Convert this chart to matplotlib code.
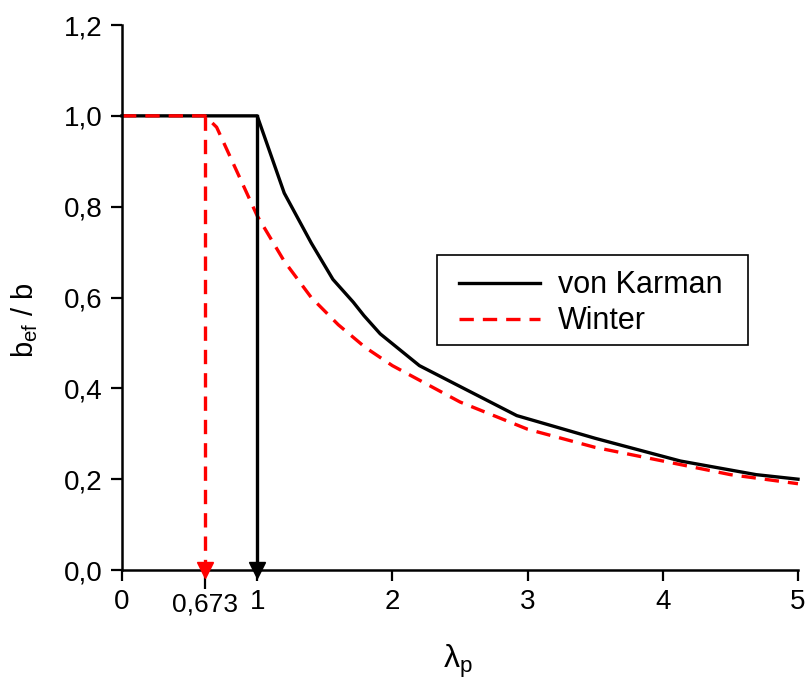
import matplotlib as mpl
import matplotlib.pyplot as plt
from matplotlib.patches import Rectangle

mpl.rcParams['font.family'] = ['Liberation Sans', 'DejaVu Sans']
mpl.rcParams['mathtext.fontset'] = 'custom'
mpl.rcParams['mathtext.rm'] = 'Liberation Sans'
mpl.rcParams['mathtext.it'] = 'Liberation Sans'

# values
karman_x = [0.0, 1.0, 1.2, 1.4, 1.56, 1.65, 1.71, 1.79, 1.91, 2.2, 2.92, 3.5, 4.13, 4.69, 5.0]
karman_y = [1.0, 1.0, 0.83, 0.72, 0.64, 0.61, 0.59, 0.56, 0.52, 0.45, 0.34, 0.29, 0.24, 0.21, 0.20]

winter_x = [0.0, 0.615, 0.7, 0.8, 1.0, 1.2, 1.4, 1.6, 1.8, 2.0, 2.5, 3.0, 3.5, 4.0, 4.5, 5.0]
winter_y = [1.0, 1.0, 0.975, 0.91, 0.78, 0.68, 0.60, 0.54, 0.49, 0.45, 0.37, 0.31, 0.27, 0.24, 0.21, 0.19]

# where the arrows sit in the picture, and what the labels say
lambda_winter = 0.615
lambda_winter_label = '0,673'
lambda_karman = 1.0

x_ticks = [0, 1, 2, 3, 4, 5]
y_ticks = [0.0, 0.2, 0.4, 0.6, 0.8, 1.0, 1.2]
y_tick_labels = ['0,0', '0,2', '0,4', '0,6', '0,8', '1,0', '1,2']

dpi = 100
fig = plt.figure(figsize=(810 / dpi, 682 / dpi), dpi=dpi)
ax = fig.add_axes([0.1506, 0.1642, 0.8346, 0.7991])

red_dash = (0, (4.3, 2.7))
lw = 2.4

ax.plot(karman_x, karman_y, color='black', lw=lw, label='von Karman', clip_on=False)
ax.plot(winter_x, winter_y, color='red', lw=lw, linestyle=red_dash, label='Winter', clip_on=False)

# vertical arrows down to the axis
ax.plot([lambda_karman, lambda_karman], [1.0, 0.0], color='black', lw=lw)
ax.plot([lambda_winter, lambda_winter], [1.0, 0.0], color='red', lw=lw, linestyle=red_dash)
ax.plot([lambda_karman], [0.0], marker='v', color='black', ms=11, clip_on=False, zorder=5)
ax.plot([lambda_winter], [0.0], marker='v', color='red', ms=11, clip_on=False, zorder=5)

ax.set_xlim(0, 5)
ax.set_ylim(0, 1.2)

ax.set_xticks(x_ticks)
ax.set_xticklabels([str(t) for t in x_ticks])
ax.set_xticks([lambda_winter], labels=[lambda_winter_label], minor=True)
ax.set_yticks(y_ticks)
ax.set_yticklabels(y_tick_labels)

for side in ['top', 'right']:
    ax.spines[side].set_visible(False)
for side in ['left', 'bottom']:
    ax.spines[side].set_linewidth(1.8)

ax.tick_params(axis='both', which='major', direction='out', length=8, width=1.6,
               labelsize=20, pad=6)
ax.tick_params(axis='x', which='minor', direction='out', length=14, width=1.6,
               labelsize=19, pad=2)

fig.text(458 / 810, 1 - 661 / 682, r'$\lambda_\mathrm{p}$', fontsize=23,
         ha='center', va='center')
fig.text(25 / 810, 1 - 320 / 682, r'$\mathrm{b_{ef}}$ / b', fontsize=21,
         ha='center', va='center', rotation=90)

leg = ax.legend(loc='upper left', bbox_to_anchor=(2.493, 0.660), bbox_transform=ax.transData,
                fontsize=22, frameon=False,
                handlelength=2.65, handletextpad=0.6, labelspacing=0.2,
                borderpad=0, borderaxespad=0)
ax.add_patch(Rectangle((2.33, 0.495), 2.30, 0.199, fill=False, edgecolor='black',
                       lw=1.2, clip_on=False, zorder=4))

fig.savefig('out.png', dpi=dpi)
